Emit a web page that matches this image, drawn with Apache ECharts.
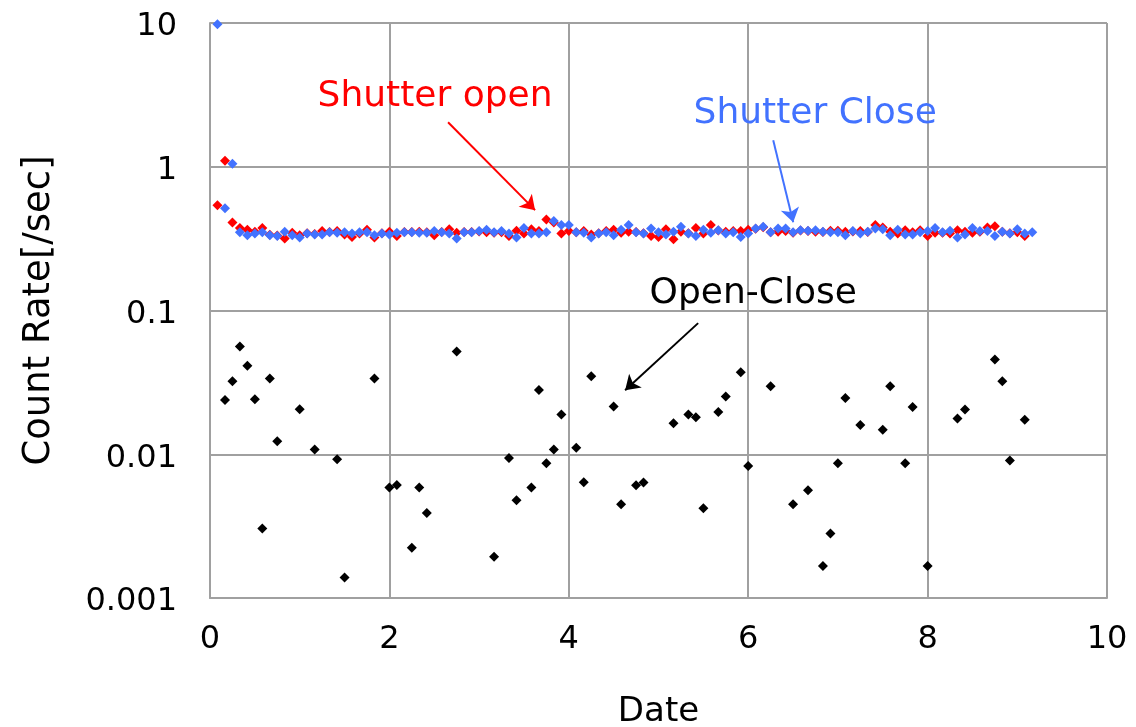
<!DOCTYPE html>
<html>
<head>
<meta charset="utf-8">
<script src="https://cdn.jsdelivr.net/npm/echarts@6/dist/echarts.min.js"></script>
<style>
html,body{margin:0;padding:0;background:#fff;}
#chart{width:1136px;height:727px;}
</style>
</head>
<body>
<div id="chart"></div>
<script>
// Shared sampling dates (days)
const dates = [
  0.083,0.167,0.25,0.333,0.417,0.5,0.583,0.667,0.75,0.833,0.917,1.0,
  1.083,1.167,1.25,1.333,1.417,1.5,1.583,1.667,1.75,1.833,1.917,2.0,
  2.083,2.167,2.25,2.333,2.417,2.5,2.583,2.667,2.75,2.833,2.917,3.0,
  3.083,3.167,3.25,3.333,3.417,3.5,3.583,3.667,3.75,3.833,3.917,4.0,
  4.083,4.167,4.25,4.333,4.417,4.5,4.583,4.667,4.75,4.833,4.917,5.0,
  5.083,5.167,5.25,5.333,5.417,5.5,5.583,5.667,5.75,5.833,5.917,6.0,
  6.083,6.167,6.25,6.333,6.417,6.5,6.583,6.667,6.75,6.833,6.917,7.0,
  7.083,7.167,7.25,7.333,7.417,7.5,7.583,7.667,7.75,7.833,7.917,8.0,
  8.083,8.167,8.25,8.333,8.417,8.5,8.583,8.667,8.75,8.833,8.917,9.0,
  9.083,9.167
];
// Shutter open count rate [/sec]
const openRate = [
  0.54,1.10,0.41,0.375,0.365,0.353,0.375,0.336,0.332,0.317,0.347,0.334,
  0.345,0.34,0.357,0.352,0.357,0.338,0.325,0.343,0.365,0.322,0.345,0.353,
  0.33,0.352,0.352,0.353,0.35,0.334,0.352,0.367,0.348,0.352,0.352,0.355,
  0.35,0.348,0.35,0.33,0.359,0.343,0.367,0.357,0.43,0.41,0.343,0.357,
  0.35,0.357,0.338,0.345,0.357,0.365,0.348,0.353,0.352,0.345,0.33,0.325,
  0.367,0.313,0.353,0.345,0.375,0.343,0.393,0.36,0.353,0.357,0.357,0.365,
  0.37,0.38,0.35,0.353,0.357,0.348,0.36,0.357,0.353,0.352,0.359,0.359,
  0.353,0.355,0.357,0.352,0.393,0.378,0.353,0.343,0.362,0.35,0.362,0.33,
  0.348,0.348,0.343,0.362,0.353,0.348,0.353,0.378,0.386,0.353,0.345,0.35,
  0.33,null
];
// Shutter close count rate [/sec]
const closeRate = [
  9.8,0.515,1.05,0.35,0.334,0.343,0.35,0.334,0.33,0.353,0.334,0.322,
  0.343,0.338,0.338,0.35,0.348,0.35,0.343,0.35,0.35,0.334,0.343,0.338,
  0.348,0.35,0.35,0.348,0.348,0.357,0.35,0.343,0.317,0.35,0.35,0.357,
  0.365,0.35,0.357,0.343,0.322,0.375,0.343,0.343,0.35,0.42,0.393,0.393,
  0.35,0.348,0.322,0.343,0.35,0.334,0.365,0.393,0.35,0.343,0.372,0.35,
  0.338,0.353,0.382,0.343,0.33,0.365,0.348,0.362,0.343,0.35,0.325,0.343,
  0.372,0.382,0.35,0.372,0.372,0.35,0.362,0.359,0.362,0.353,0.35,0.35,
  0.334,0.357,0.343,0.353,0.372,0.367,0.334,0.365,0.338,0.338,0.35,0.357,
  0.375,0.35,0.359,0.322,0.338,0.375,0.357,0.357,0.33,0.353,0.343,0.367,
  0.343,0.35
];
// Open - Close (positive differences only)
const diffDates = [
  0.167,0.25,0.333,0.417,0.5,0.583,0.667,0.75,1.0,1.167,1.417,1.5,1.833,2.0,
  2.083,2.25,2.333,2.417,2.75,3.167,3.333,3.417,3.583,3.667,3.75,3.833,3.917,
  4.083,4.167,4.25,4.5,4.583,4.75,4.833,5.167,5.333,5.417,5.5,5.667,5.75,
  5.917,6.0,6.25,6.5,6.667,6.833,6.917,7.0,7.083,7.25,7.5,7.583,7.75,7.833,
  8.0,8.333,8.417,8.75,8.833,8.917,9.083
];
const diffRate = [
  0.0238,0.0322,0.0562,0.0412,0.0241,0.00304,0.0336,0.0123,0.0206,0.0108,0.00923,0.00139,0.0336,0.00587,
  0.00611,0.00224,0.00587,0.0039,0.0519,0.00194,0.00942,0.00479,0.00587,0.028,0.00866,0.0108,0.0189,
  0.0111,0.00638,0.0349,0.0215,0.00449,0.00608,0.00636,0.0164,0.0189,0.0181,0.00421,0.0197,0.0252,
  0.0372,0.0083,0.0297,0.00449,0.00562,0.00167,0.00281,0.00866,0.0246,0.016,0.0148,0.0297,0.00866,0.0213,
  0.00167,0.0177,0.0205,0.0456,0.0322,0.00904,0.0174
];
const xTicks = [0,2,4,6,8,10];
const yTicks = ['0.001','0.01','0.1','1','10'];

const FONT = 'DejaVu Sans';
const RED = '#ff0000', BLUE = '#4272ff', BLACK = '#000000';

const pairs = (xs, ys) => xs.map((x, i) => ys[i] == null ? null : [x, ys[i]]).filter(p => p);

function arrow(from, to, color) {
  return {
    silent: true, animation: false,
    symbol: ['none', 'arrow'], symbolSize: 14,
    label: { show: false },
    itemStyle: { color: color },
    lineStyle: { color: color, width: 2, type: 'solid', opacity: 1 },
    emphasis: { disabled: true },
    data: [[{ coord: from }, { coord: to }]]
  };
}
function note(text, at, color) {
  return {
    silent: true, animation: false,
    symbol: 'circle', symbolSize: 1,
    itemStyle: { color: 'rgba(0,0,0,0)' },
    label: { show: true, position: 'inside', formatter: text, color: color,
             fontFamily: FONT, fontSize: 36 },
    data: [{ coord: at }]
  };
}

const chart = echarts.init(document.getElementById('chart'), null, { renderer: 'canvas' });
chart.setOption({
  animation: false,
  backgroundColor: '#ffffff',
  grid: { left: 210, right: 29, top: 23, bottom: 129, containLabel: false, outerBoundsMode: 'none' },
  xAxis: {
    type: 'value', min: 0, max: 10, interval: 2,
    name: 'Date', nameLocation: 'middle', nameGap: 97,
    nameTextStyle: { fontFamily: FONT, fontSize: 34, color: '#000' },
    axisLine: { show: true, lineStyle: { color: '#a0a0a0', width: 2 } },
    axisTick: { show: false },
    axisLabel: { fontFamily: FONT, fontSize: 32, color: '#000', margin: 26,
                 formatter: v => xTicks.includes(v) ? String(v) : '' },
    splitLine: { show: true, lineStyle: { color: '#a0a0a0', width: 2 } }
  },
  yAxis: {
    type: 'log', logBase: 10, min: 0.001, max: 10,
    name: 'Count Rate[/sec]', nameLocation: 'middle', nameGap: 152,
    nameTextStyle: { fontFamily: FONT, fontSize: 37, color: '#000' },
    axisLine: { show: true, lineStyle: { color: '#a0a0a0', width: 2 } },
    axisTick: { show: false },
    axisLabel: { margin: 33,
                 rich: { t: { fontFamily: FONT, fontSize: 32, color: '#000', padding: [8, 0, 0, 0] } },
                 formatter: v => { const s = yTicks.find(t => Math.abs(Math.log10(+t) - Math.log10(v)) < 1e-6); return s ? '{t|' + s + '}' : ''; } },
    splitLine: { show: true, lineStyle: { color: '#a0a0a0', width: 2 } }
  },
  series: [
    {
      name: 'Shutter open', type: 'scatter', symbol: 'diamond', symbolSize: 10,
      itemStyle: { color: RED, opacity: 1 }, data: pairs(dates, openRate),
      markLine: arrow([2.654, 2.04], [3.624, 0.499], RED),
      markPoint: note('Shutter open', [2.509, 3.05], RED)
    },
    {
      name: 'Shutter Close', type: 'scatter', symbol: 'diamond', symbolSize: 10,
      itemStyle: { color: BLUE, opacity: 1 }, data: pairs(dates, closeRate),
      markLine: arrow([6.279, 1.53], [6.502, 0.411], BLUE),
      markPoint: note('Shutter Close', [6.747, 2.36], BLUE)
    },
    {
      name: 'Open-Close', type: 'scatter', symbol: 'diamond', symbolSize: 10,
      itemStyle: { color: BLACK, opacity: 1 }, data: pairs(diffDates, diffRate),
      markLine: arrow([5.442, 0.0817], [4.628, 0.0279], BLACK),
      markPoint: note('Open-Close', [6.056, 0.132], BLACK)
    }
  ]
});
</script>
</body>
</html>
